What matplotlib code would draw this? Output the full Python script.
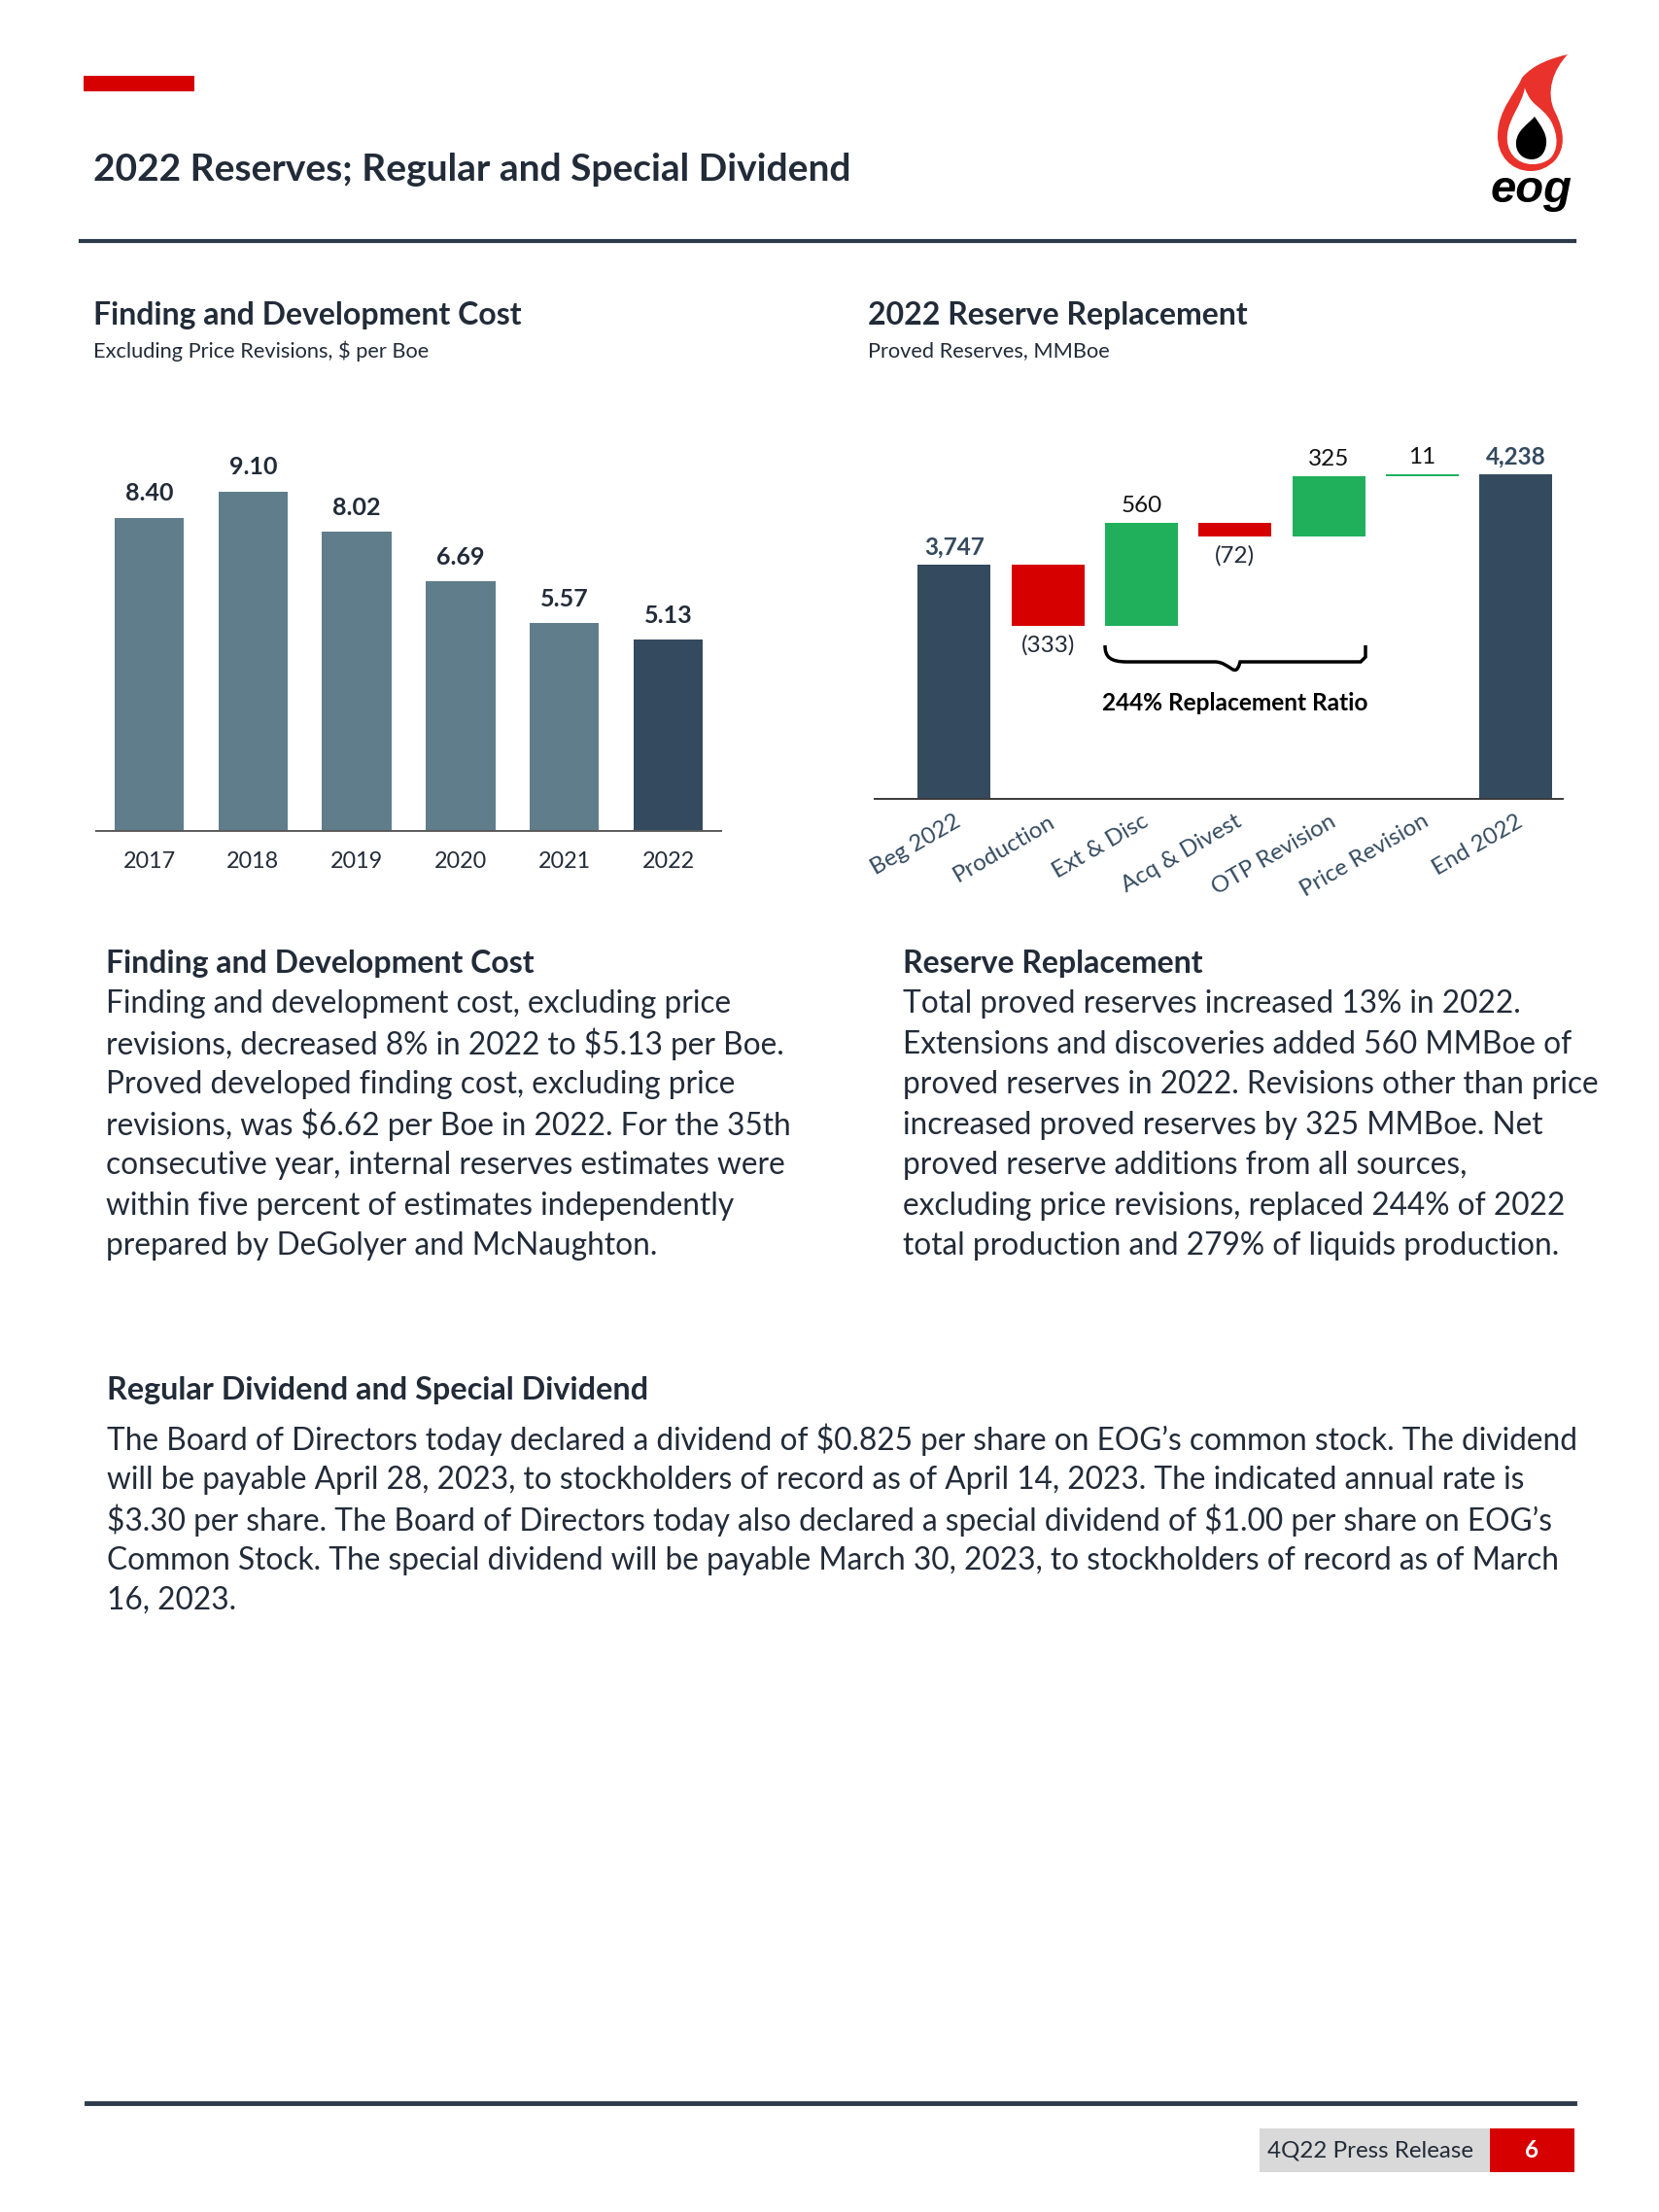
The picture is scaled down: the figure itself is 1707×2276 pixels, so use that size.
import matplotlib
matplotlib.use("Agg")
import matplotlib.pyplot as plt
from matplotlib.path import Path
from matplotlib.patches import PathPatch, Rectangle

plt.rcParams['font.family'] = ['Lato', 'DejaVu Sans']

# ---- data ----
years = ['2017', '2018', '2019', '2020', '2021', '2022']
fd_cost = [8.40, 9.10, 8.02, 6.69, 5.57, 5.13]

steps = ['Beg 2022', 'Production', 'Ext & Disc', 'Acq & Divest',
         'OTP Revision', 'Price Revision', 'End 2022']
reserve_changes = [3747, -333, 560, -72, 325, 11, 4238]
step_labels = ['3,747', '(333)', '560', '(72)', '325', '11', '4,238']

left_text = [
    "Finding and development cost, excluding price",
    "revisions, decreased 8% in 2022 to $5.13 per Boe.",
    "Proved developed finding cost, excluding price",
    "revisions, was $6.62 per Boe in 2022. For the 35th",
    "consecutive year, internal reserves estimates were",
    "within five percent of estimates independently",
    "prepared by DeGolyer and McNaughton.",
]
right_text = [
    "Total proved reserves increased 13% in 2022.",
    "Extensions and discoveries added 560 MMBoe of",
    "proved reserves in 2022. Revisions other than price",
    "increased proved reserves by 325 MMBoe. Net",
    "proved reserve additions from all sources,",
    "excluding price revisions, replaced 244% of 2022",
    "total production and 279% of liquids production.",
]
dividend_text = [
    "The Board of Directors today declared a dividend of $0.825 per share on EOG\u2019s common stock. The dividend",
    "will be payable April 28, 2023, to stockholders of record as of April 14, 2023. The indicated annual rate is",
    "$3.30 per share. The Board of Directors today also declared a special dividend of $1.00 per share on EOG\u2019s",
    "Common Stock. The special dividend will be payable March 30, 2023, to stockholders of record as of March",
    "16, 2023.",
]

TEXT = '#222b38'
BAR = '#607d8b'
DARK = '#344a5f'
RED = '#d60000'
GREEN = '#20b05c'

W, H = 1707, 2276
fig = plt.figure(figsize=(W / 100, H / 100), dpi=100)
fig.patch.set_facecolor('white')

page = fig.add_axes([0, 0, 1, 1])
page.set_xlim(0, W)
page.set_ylim(H, 0)
page.axis('off')


def put(x, y, s, size, weight='normal', color=TEXT, ha='left', va='center', **kw):
    page.text(x, y, s, fontsize=size, fontweight=weight, color=color,
              ha=ha, va=va, parse_math=False, **kw)


def px_axes(x0, x1, y_top, y_bot):
    return fig.add_axes([x0 / W, 1 - y_bot / H, (x1 - x0) / W, (y_bot - y_top) / H])


# ---- header ----
page.add_patch(Rectangle((86, 78), 114, 16, color=RED, lw=0))
put(96, 174, "2022 Reserves; Regular and Special Dividend", 28, 'bold')
page.plot([83, 1620], [248, 248], color='#2d3a4a', lw=3)

# logo
flame = Path([(1575, 176), (1555, 176), (1540, 160), (1541, 138),
              (1542, 112), (1560, 95), (1566, 80),
              (1578, 66), (1596, 60), (1613, 56),
              (1598, 72), (1590, 95), (1600, 115),
              (1610, 135), (1611, 152), (1600, 165),
              (1593, 172), (1585, 176), (1575, 176)],
             [Path.MOVETO] + [Path.CURVE4] * 18)
page.add_patch(PathPatch(flame, fc='#e8322b', ec='none'))
inner = Path([(1577, 169), (1560, 169), (1549, 156), (1551, 138),
              (1553, 120), (1566, 108), (1569, 90),
              (1575, 110), (1586, 108), (1596, 125),
              (1604, 140), (1603, 155), (1595, 163),
              (1590, 167), (1584, 169), (1577, 169)],
             [Path.MOVETO] + [Path.CURVE4] * 15)
page.add_patch(PathPatch(inner, fc='white', ec='none'))
tongue = Path([(1569, 90), (1574, 105), (1585, 105), (1594, 120),
               (1590, 100), (1580, 98), (1569, 90)],
              [Path.MOVETO] + [Path.CURVE4] * 6)
page.add_patch(PathPatch(tongue, fc='#e8322b', ec='none'))
drop = Path([(1576, 164), (1566, 164), (1559, 156), (1560, 146),
             (1561, 134), (1572, 128), (1579, 120),
             (1586, 130), (1592, 138), (1591, 148),
             (1590, 158), (1584, 164), (1576, 164)],
            [Path.MOVETO] + [Path.CURVE4] * 12)
page.add_patch(PathPatch(drop, fc='black', ec='none'))
put(1576, 196, "eog", 34, 'heavy', color='black', ha='center',
    style='italic', family='Liberation Sans')

# ---- chart headers ----
put(96, 324, "Finding and Development Cost", 23, 'bold')
put(96, 361, "Excluding Price Revisions, $ per Boe", 15.7)
put(893, 324, "2022 Reserve Replacement", 23, 'bold')
put(893, 361, "Proved Reserves, MMBoe", 15.7)

# ---- left chart: F&D cost ----
ax1 = px_axes(99, 742, 855 - 11 * 38.36, 855)
ax1.set_facecolor('none')
colors = [BAR] * (len(years) - 1) + [DARK]
xs = range(len(years))
bars = ax1.bar(xs, fd_cost, width=0.667, color=colors)
for x, v in zip(xs, fd_cost):
    ax1.annotate(f"{v:.2f}", (x, v), xytext=(0, 25), textcoords='offset pixels',
                 ha='center', va='center', fontsize=18, fontweight='bold', color=TEXT)
ax1.set_xlim(-0.51, 5.51)
ax1.set_ylim(0, 11)
ax1.set_xticks(list(xs))
ax1.set_xticklabels(years, fontsize=16.8, color=TEXT)
ax1.tick_params(axis='x', length=0, pad=15)
ax1.set_yticks([])
for s in ['top', 'left', 'right']:
    ax1.spines[s].set_visible(False)
ax1.spines['bottom'].set_color('#5a5a5a')
ax1.spines['bottom'].set_linewidth(1.4)

# ---- right chart: waterfall ----
y_lo, y_hi = 2470, 4500
ax2 = px_axes(900, 1608, 822 - (y_hi - y_lo) * 0.1887, 822)
ax2.set_facecolor('none')
running = 0
last = len(reserve_changes) - 1
for i, v in enumerate(reserve_changes):
    if i == 0 or i == last:
        bottom, height, c = 0, v, DARK
        running = v
    elif v >= 0:
        bottom, height, c = running, v, GREEN
        running += v
    else:
        bottom, height, c = running + v, -v, RED
        running += v
    ax2.bar(i, height, bottom=bottom, width=0.777, color=c, lw=0)
    if i in (0, last):
        ax2.annotate(step_labels[i], (i, bottom + height), xytext=(0, 18),
                     textcoords='offset pixels', ha='center', va='center',
                     fontsize=17.5, fontweight='bold', color=DARK)
    elif v >= 0:
        ax2.annotate(step_labels[i], (i, bottom + height), xytext=(0, 18),
                     textcoords='offset pixels', ha='center', va='center',
                     fontsize=17.5, color='#111111')
    else:
        ax2.annotate(step_labels[i], (i, bottom), xytext=(0, -20),
                     textcoords='offset pixels', ha='center', va='center',
                     fontsize=17.5, color=TEXT)
ax2.set_xlim(-0.85, 6.5)
ax2.set_ylim(y_lo, y_hi)
ax2.set_xticks(range(len(steps)))
ax2.set_xticklabels(steps, fontsize=17.3, color=DARK, rotation=30,
                    ha='right', rotation_mode='anchor')
ax2.tick_params(axis='x', length=0, pad=9)
ax2.set_yticks([])
for s in ['top', 'left', 'right']:
    ax2.spines[s].set_visible(False)
ax2.spines['bottom'].set_color('#3a3a3a')
ax2.spines['bottom'].set_linewidth(1.4)

# brace under the additions
brace = Path([(1137, 664), (1137, 676), (1142, 681), (1160, 681),
              (1250, 681), (1266, 681), (1271, 700),
              (1276, 681), (1292, 681), (1382, 681),
              (1400, 681), (1405, 676), (1405, 664)],
             [Path.MOVETO] + [Path.CURVE4] * 3 + [Path.LINETO] +
             [Path.CURVE4] * 6 + [Path.LINETO] + [Path.LINETO])
page.add_patch(PathPatch(brace, fc='none', ec='black', lw=2.5))
put(1271, 723, "244% Replacement Ratio", 17.6, 'bold', color='black', ha='center')

# ---- paragraphs ----
put(109, 991, "Finding and Development Cost", 23, 'bold')
for k, line in enumerate(left_text):
    put(109, 1033 + k * 41.5, line, 22.8)
put(929, 991, "Reserve Replacement", 23, 'bold')
for k, line in enumerate(right_text):
    put(929, 1033 + k * 41.5, line, 22.8)

put(110, 1430, "Regular Dividend and Special Dividend", 23.3, 'bold')
for k, line in enumerate(dividend_text):
    put(110, 1481 + k * 41.5, line, 22.8)

# ---- footer ----
page.plot([89, 1620], [2164, 2164], color='#2d3a4a', lw=3.5)
page.add_patch(Rectangle((1296, 2190), 237, 45, color='#d9d9d9', lw=0))
page.add_patch(Rectangle((1533, 2190), 87, 45, color=RED, lw=0))
put(1304, 2213, "4Q22 Press Release", 17.4)
put(1576, 2213, "6", 17.4, 'bold', color='white', ha='center')

fig.savefig("out.png", dpi=100, facecolor='white')
